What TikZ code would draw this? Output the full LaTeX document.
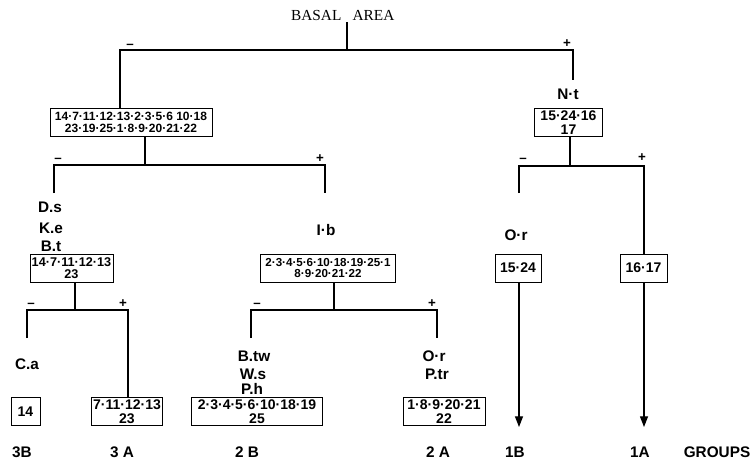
\documentclass[tikz,border=0pt]{standalone}
\usepackage{fontspec}
\setmainfont{Liberation Sans}
\newfontfamily\titlefont{Liberation Serif}
\usetikzlibrary{arrows.meta}

\tikzset{
  grpbox/.style={draw, line width=0.6pt, align=center, inner sep=1pt, minimum height=21pt,
    font=\bfseries\fontsize{#1}{#1}\selectfont},
  grpbox/.default=9,
  taxon/.style={inner sep=0pt, font=\bfseries\fontsize{11.5}{11.5}\selectfont},
  sgn/.style={inner sep=0pt, font=\bfseries\fontsize{10}{10}\selectfont},
  grplabel/.style={inner sep=0pt, font=\bfseries\fontsize{11.5}{11.5}\selectfont},
}

\begin{document}
\begin{tikzpicture}[x=0.75pt,y=-0.75pt,line width=0.9pt]
\useasboundingbox (0,0) rectangle (756,465);
% title:
\node[inner sep=0pt, anchor=east, font=\titlefont\fontsize{11.5}{11.5}\selectfont] (basal) at (342,15) {BASAL};
\node[inner sep=0pt, anchor=west, font=\titlefont\fontsize{11.5}{11.5}\selectfont] (area) at (352,15) {AREA};
\coordinate (top) at (347,22);
% first split:
\coordinate (j0) at (347,50);
\coordinate (l1) at (120,50);
\coordinate (r1) at (573,50);
\coordinate (r1end) at (573,80);
\node[sgn] (m1) at (130,46) {–};
\node[sgn] (p1) at (567,44) {+};
\node[grpbox=9, minimum width=121.5pt] (all) at (131,122)
  {14·7·11·12·13·2·3·5·6 10·18\\23·19·25·1·8·9·20·21·22};
\draw (top) -- (j0);
\draw (all.north -| l1) -- (l1) -- (r1) -- (r1end);
% left branch:
\coordinate (j1) at (145,165);
\coordinate (l2) at (54,165);
\coordinate (l2end) at (54,193);
\coordinate (r2) at (325,165);
\coordinate (r2end) at (325,193);
\node[sgn] (m2) at (58,160) {–};
\node[sgn] (p2) at (320,159) {+};
\draw (all.south -| j1) -- (j1);
\draw (l2end) -- (l2) -- (r2) -- (r2end);
\node[taxon] (ds) at (50,207) {D.s};
\node[taxon] (ke) at (51,228) {K.e};
\node[taxon] (bt) at (51,246) {B.t};
\node[grpbox=9.5, minimum width=62.25pt] (g3) at (71.5,268) {14·7·11·12·13\\23};
\node[taxon] (ib) at (326,230) {I·b};
\node[grpbox=8.7, minimum width=101.25pt] (g2) at (328,268) {2·3·4·5·6·10·18·19·25·1\\8·9·20·21·22};
% group 3 split:
\coordinate (j3) at (75,310);
\coordinate (l3) at (27,310);
\coordinate (l3end) at (27,338);
\coordinate (r3) at (128,310);
\node[sgn] (m3) at (31,305) {–};
\node[sgn] (p3) at (123,304) {+};
\node[taxon] (ca) at (27,364) {C.a};
\node[grpbox=10.5, minimum width=21.75pt] (g3b) at (25.5,411.5) {14};
\node[grpbox=10.5, minimum width=50.25pt] (g3a) at (127,411.5) {7·11·12·13\\23};
\draw (g3.south -| j3) -- (j3);
\draw (l3end) -- (l3) -- (r3) -- (g3a.north -| r3);
% group 2 split:
\coordinate (j4) at (334,310);
\coordinate (l4) at (251,310);
\coordinate (l4end) at (251,338);
\coordinate (r4) at (437,310);
\coordinate (r4end) at (437,338);
\node[sgn] (m4) at (257,305) {–};
\node[sgn] (p4) at (432,304) {+};
\draw (g2.south -| j4) -- (j4);
\draw (l4end) -- (l4) -- (r4) -- (r4end);
\node[taxon] (btw) at (254,356) {B.tw};
\node[taxon] (ws) at (253,374) {W.s};
\node[taxon] (ph) at (252,389) {P.h};
\node[grpbox=10.5, minimum width=98.25pt] (g2b) at (257,411.5) {2·3·4·5·6·10·18·19\\25};
\node[taxon] (or2) at (434,356) {O·r};
\node[taxon] (ptr) at (437,374) {P.tr};
\node[grpbox=10.5, minimum width=61.5pt] (g2a) at (444,411.5) {1·8·9·20·21\\22};
% right branch:
\node[taxon] (nt) at (568,94) {N·t};
\node[grpbox=10.5, minimum width=51pt] (g1) at (568.5,122.5) {15·24·16\\17};
\coordinate (j5) at (570,166);
\coordinate (l5) at (519,166);
\coordinate (l5end) at (519,193);
\coordinate (r5) at (644,166);
\node[sgn] (m5) at (523,160) {–};
\node[sgn] (p5) at (642,158) {+};
\draw (g1.south -| j5) -- (j5);
\node[taxon] (or1) at (516,235) {O·r};
\node[grpbox=10.5, minimum width=34.5pt] (g1b) at (518,268) {15·24};
\node[grpbox=10.5, minimum width=35.25pt] (g1a) at (643.5,268) {16·17};
\draw (l5end) -- (l5) -- (r5) -- (g1a.north -| r5);
\coordinate (a1b) at (519,427);
\coordinate (a1a) at (644,427);
\draw[-{Triangle[width=6pt,length=8pt]}] (g1b.south -| a1b) -- (a1b);
\draw[-{Triangle[width=6pt,length=8pt]}] (g1a.south -| a1a) -- (a1a);
% groups:
\node[grplabel] (n3b) at (22,452) {3B};
\node[grplabel] (n3a) at (122,452) {3 A};
\node[grplabel] (n2b) at (247,452) {2 B};
\node[grplabel] (n2a) at (438,452) {2 A};
\node[grplabel] (n1b) at (515,452) {1B};
\node[grplabel] (n1a) at (640,452) {1A};
\node[grplabel] (grp) at (717,452) {GROUPS};
\end{tikzpicture}
\end{document}
